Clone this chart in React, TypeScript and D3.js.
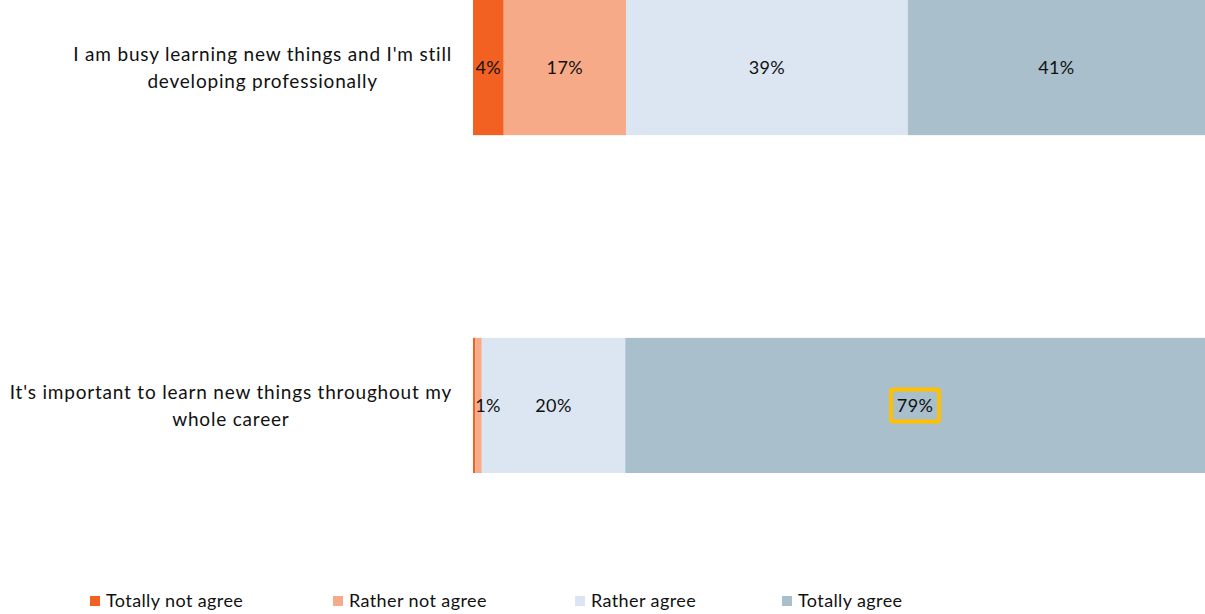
import React, { useEffect, useRef } from "react";
import * as d3 from "d3";

const categories = [
  ["I am busy learning new things and I'm still", "developing professionally"],
  ["It's important to learn new things throughout my", "whole career"],
];
const seriesNames = ["Totally not agree", "Rather not agree", "Rather agree", "Totally agree"];
const totallyNotAgree = [4.2, 0.3];
const ratherNotAgree = [16.7, 0.9];
const ratherAgree = [38.5, 19.6];
const totallyAgree = [40.6, 79.2];
const colors = ["#F26122", "#F7AA87", "#DCE6F2", "#A9BFCC"];
const highlight = { cat: 1, series: 3 };

const W = 1205;
const H = 614;
const FONT = "Lato, 'Open Sans', sans-serif";

export default function App() {
  const ref = useRef<SVGSVGElement>(null);
  useEffect(() => {
    const svg = d3.select(ref.current);
    svg.selectAll("*").remove();
    const series = [totallyNotAgree, ratherNotAgree, ratherAgree, totallyAgree];
    const keys = categories.map((_, i) => String(i));
    const x = d3.scaleLinear().domain([0, 100]).range([473, W]);
    const y = d3.scaleBand().domain(keys).range([0, 473]).paddingInner(0.6).paddingOuter(0);
    const data = keys.map((k, i) => {
      const row: any = { key: k };
      series.forEach((s, j) => (row["s" + j] = s[i]));
      return row;
    });
    const stack = d3.stack().keys(series.map((_, j) => "s" + j))(data);

    const g = svg.append("g");
    stack.forEach((layer, j) => {
      g.selectAll(null)
        .data(layer)
        .enter()
        .append("rect")
        .attr("x", (d: any) => x(d[0]))
        .attr("y", (d: any) => y(d.data.key)!)
        .attr("width", (d: any) => x(d[1]) - x(d[0]))
        .attr("height", y.bandwidth())
        .attr("fill", colors[j]);
    });
    stack.forEach((layer, j) => {
      layer.forEach((d: any, i) => {
        const v = d[1] - d[0];
        const r = Math.round(v);
        if (r === 0) return;
        const w = x(d[1]) - x(d[0]);
        const narrow = w < 20;
        const t = g
          .append("text")
          .attr("x", narrow ? x(d[0]) : (x(d[0]) + x(d[1])) / 2)
          .attr("y", y(d.data.key)! + y.bandwidth() / 2)
          .attr("dy", "0.35em")
          .attr("text-anchor", narrow ? "start" : "middle")
          .attr("font-family", FONT)
          .attr("font-size", 18)
          .attr("letter-spacing", 0.4)
          .attr("fill", "#111")
          .text(r + "%");
        if (i === highlight.cat && j === highlight.series) {
          const bb = (t.node() as SVGTextElement).getBBox();
          const cx = bb.x + bb.width / 2;
          const cy = y(d.data.key)! + y.bandwidth() / 2;
          g.append("rect")
            .attr("x", cx - 24)
            .attr("y", cy - 16)
            .attr("width", 48)
            .attr("height", 32)
            .attr("rx", 2)
            .attr("fill", "none")
            .attr("stroke", "#FFC000")
            .attr("stroke-width", 4);
        }
      });
    });

    // category labels
    categories.forEach((lines, i) => {
      const cy = y(keys[i])! + y.bandwidth() / 2;
      const tg = g.append("g");
      const texts = lines.map((ln, li) =>
        tg
          .append("text")
          .attr("y", cy + (li - (lines.length - 1) / 2) * 27)
          .attr("dy", "0.35em")
          .attr("text-anchor", "middle")
          .attr("font-family", FONT)
          .attr("font-size", 19)
          .attr("letter-spacing", 0.8)
          .attr("fill", "#111")
          .text(ln)
      );
      const maxW = d3.max(texts, (t) => (t.node() as SVGTextElement).getComputedTextLength()) || 0;
      texts.forEach((t) => t.attr("x", 452 - maxW / 2));
    });

    // legend
    const legendX = [90, 333, 575, 782];
    seriesNames.forEach((name, j) => {
      const lg = g.append("g").attr("transform", `translate(${legendX[j]},601)`);
      lg.append("rect").attr("x", 0).attr("y", -5).attr("width", 10).attr("height", 10).attr("fill", colors[j]);
      lg.append("text")
        .attr("x", 16)
        .attr("y", 0)
        .attr("dy", "0.35em")
        .attr("font-family", FONT)
        .attr("font-size", 18)
        .attr("letter-spacing", 0.4)
        .attr("fill", "#111")
        .text(name);
    });
  }, []);
  return (
    <svg
      ref={ref}
      width={W}
      height={H}
      style={{ position: "absolute", left: 0, top: 0, display: "block", background: "#fff" }}
    />
  );
}
